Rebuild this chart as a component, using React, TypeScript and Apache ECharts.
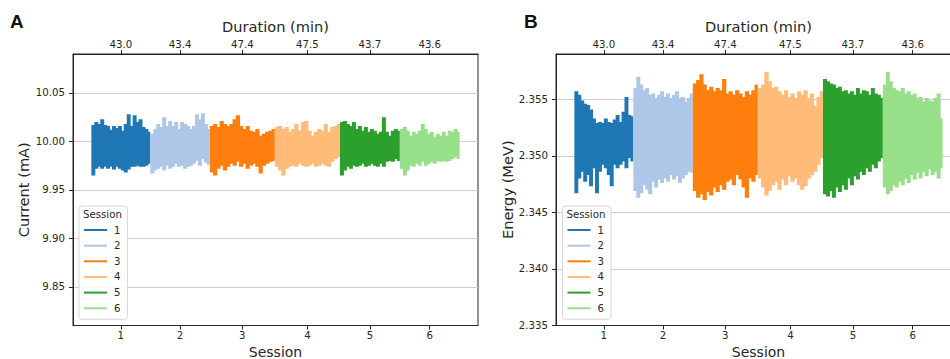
import React, { useEffect, useRef } from "react";
import * as echarts from "echarts";

const sessions = ["1", "2", "3", "4", "5", "6"];
const durations = [43.0, 43.4, 47.4, 47.5, 43.7, 43.6];
const durationLabels = ["43.0", "43.4", "47.4", "47.5", "43.7", "43.6"];
const colors = ["#1f77b4", "#aec7e8", "#ff7f0e", "#ffbb78", "#2ca02c", "#98df8a"];

const currentTicks = [9.85, 9.9, 9.95, 10.0, 10.05];
const energyTicks = [2.335, 2.34, 2.345, 2.35, 2.355];

// Current (mA): upper / lower envelope of each session's trace
const currentHigh = [
  [10.017, 10.020, 10.018, 10.023, 10.017, 10.016, 10.012, 10.016, 10.014, 10.016, 10.011, 10.018, 10.028, 10.016, 10.027, 10.020, 10.023, 10.015, 10.013, 10.010],
  [10.008, 10.013, 10.018, 10.015, 10.025, 10.016, 10.021, 10.016, 10.020, 10.013, 10.020, 10.018, 10.016, 10.013, 10.016, 10.028, 10.023, 10.029, 10.018, 10.013],
  [10.016, 10.018, 10.015, 10.021, 10.018, 10.016, 10.018, 10.023, 10.027, 10.016, 10.013, 10.016, 10.011, 10.010, 10.013, 10.006, 10.008, 10.010, 10.011, 10.013],
  [10.015, 10.016, 10.013, 10.015, 10.010, 10.013, 10.018, 10.011, 10.020, 10.021, 10.011, 10.006, 10.010, 10.013, 10.011, 10.018, 10.010, 10.015, 10.016, 10.018],
  [10.020, 10.021, 10.018, 10.016, 10.020, 10.013, 10.016, 10.011, 10.015, 10.010, 10.013, 10.011, 10.008, 10.010, 10.025, 10.010, 10.006, 10.011, 10.013, 10.011],
  [10.013, 10.015, 10.011, 10.006, 10.010, 10.008, 10.011, 10.018, 10.013, 10.008, 10.010, 10.005, 10.008, 10.006, 10.010, 10.006, 10.011, 10.010, 10.013, 10.010],
];
const currentLow = [
  [9.965, 9.972, 9.974, 9.972, 9.974, 9.972, 9.974, 9.971, 9.974, 9.972, 9.970, 9.968, 9.971, 9.974, 9.974, 9.975, 9.974, 9.974, 9.975, 9.977],
  [9.967, 9.970, 9.972, 9.974, 9.970, 9.975, 9.972, 9.974, 9.977, 9.974, 9.975, 9.972, 9.974, 9.975, 9.977, 9.980, 9.975, 9.982, 9.978, 9.976],
  [9.968, 9.965, 9.972, 9.975, 9.970, 9.974, 9.977, 9.975, 9.979, 9.974, 9.977, 9.972, 9.975, 9.977, 9.974, 9.967, 9.975, 9.977, 9.979, 9.980],
  [9.974, 9.970, 9.965, 9.972, 9.974, 9.975, 9.974, 9.977, 9.975, 9.974, 9.975, 9.977, 9.974, 9.975, 9.977, 9.975, 9.974, 9.979, 9.982, 9.984],
  [9.965, 9.970, 9.974, 9.972, 9.975, 9.974, 9.975, 9.977, 9.974, 9.975, 9.977, 9.975, 9.974, 9.977, 9.974, 9.979, 9.980, 9.979, 9.982, 9.980],
  [9.972, 9.965, 9.970, 9.975, 9.974, 9.977, 9.975, 9.979, 9.975, 9.977, 9.979, 9.977, 9.980, 9.979, 9.980, 9.979, 9.980, 9.982, 9.984, 9.982],
];

// Energy (MeV): upper / lower envelope of each session's trace
const energyHigh = [
  [2.3557, 2.3554, 2.3549, 2.3546, 2.3545, 2.3541, 2.3533, 2.3529, 2.3530, 2.3529, 2.3533, 2.3530, 2.3529, 2.3532, 2.3536, 2.3530, 2.3539, 2.3552, 2.3536, 2.3535],
  [2.3560, 2.3570, 2.3563, 2.3558, 2.3560, 2.3554, 2.3555, 2.3551, 2.3554, 2.3557, 2.3552, 2.3555, 2.3551, 2.3554, 2.3557, 2.3551, 2.3552, 2.3548, 2.3551, 2.3555],
  [2.3564, 2.3567, 2.3572, 2.3563, 2.3558, 2.3561, 2.3557, 2.3560, 2.3558, 2.3568, 2.3555, 2.3557, 2.3554, 2.3558, 2.3555, 2.3552, 2.3557, 2.3554, 2.3558, 2.3563],
  [2.3560, 2.3563, 2.3574, 2.3566, 2.3560, 2.3561, 2.3557, 2.3554, 2.3558, 2.3552, 2.3555, 2.3551, 2.3557, 2.3554, 2.3558, 2.3551, 2.3555, 2.3544, 2.3552, 2.3557],
  [2.3568, 2.3566, 2.3564, 2.3563, 2.3560, 2.3561, 2.3557, 2.3558, 2.3555, 2.3557, 2.3554, 2.3560, 2.3555, 2.3558, 2.3557, 2.3554, 2.3560, 2.3555, 2.3554, 2.3551],
  [2.3563, 2.3574, 2.3566, 2.3560, 2.3558, 2.3557, 2.3560, 2.3555, 2.3557, 2.3554, 2.3555, 2.3551, 2.3552, 2.3548, 2.3551, 2.3549, 2.3548, 2.3551, 2.3555, 2.3533],
];
const energyLow = [
  [2.3467, 2.3480, 2.3486, 2.3477, 2.3483, 2.3473, 2.3489, 2.3467, 2.3486, 2.3492, 2.3489, 2.3483, 2.3473, 2.3492, 2.3489, 2.3492, 2.3495, 2.3489, 2.3498, 2.3495],
  [2.3469, 2.3463, 2.3467, 2.3474, 2.3470, 2.3466, 2.3477, 2.3472, 2.3479, 2.3476, 2.3480, 2.3477, 2.3483, 2.3479, 2.3482, 2.3476, 2.3480, 2.3483, 2.3486, 2.3485],
  [2.3469, 2.3463, 2.3466, 2.3461, 2.3468, 2.3465, 2.3472, 2.3468, 2.3474, 2.3470, 2.3477, 2.3479, 2.3474, 2.3483, 2.3479, 2.3472, 2.3463, 2.3480, 2.3477, 2.3483],
  [2.3480, 2.3472, 2.3465, 2.3469, 2.3474, 2.3477, 2.3470, 2.3479, 2.3474, 2.3482, 2.3477, 2.3480, 2.3474, 2.3470, 2.3473, 2.3480, 2.3483, 2.3486, 2.3492, 2.3498],
  [2.3466, 2.3464, 2.3469, 2.3463, 2.3472, 2.3468, 2.3474, 2.3470, 2.3480, 2.3474, 2.3482, 2.3479, 2.3486, 2.3483, 2.3489, 2.3486, 2.3492, 2.3489, 2.3495, 2.3498],
  [2.3472, 2.3466, 2.3469, 2.3474, 2.3472, 2.3477, 2.3474, 2.3480, 2.3476, 2.3483, 2.3479, 2.3485, 2.3480, 2.3486, 2.3482, 2.3488, 2.3483, 2.3486, 2.3480, 2.3489],
];

const FONT = "DejaVu Sans";
const INK = "#262626";

const starts: number[] = [];
durations.forEach((d, i) => starts.push(i === 0 ? 0 : starts[i - 1] + durations[i - 1]));
const centers = starts.map((s, i) => s + durations[i] / 2);
const X_MIN = -13.4;
const X_MAX = 282.0;

// each sample covers an equal slice of its session: [t0, t1, low, high]
function samples(start: number, dur: number, hi: number[], lo: number[]) {
  const n = hi.length;
  return hi.map((h, i) => [start + (dur * i) / n, start + (dur * (i + 1)) / n, lo[i], h]);
}

function centerIndex(v: number) {
  let best = 0;
  centers.forEach((c, i) => {
    if (Math.abs(c - v) < Math.abs(centers[best] - v)) best = i;
  });
  return best;
}

function bottomAxis(gridIndex: number) {
  return {
    type: "value",
    gridIndex,
    position: "bottom",
    min: X_MIN,
    max: X_MAX,
    name: "Session",
    nameLocation: "middle",
    nameGap: 14,
    nameTextStyle: { fontSize: 14, color: INK, fontFamily: FONT },
    axisLine: { show: true, onZero: false, lineStyle: { color: INK, width: 1 } },
    axisTick: { show: true, length: 4, customValues: centers, lineStyle: { color: INK } },
    axisLabel: {
      customValues: centers,
      formatter: (v: number) => sessions[centerIndex(v)],
      fontSize: 10.2,
      color: INK,
      fontFamily: FONT,
      margin: 5,
    },
    splitLine: { show: false },
  };
}

function topAxis(gridIndex: number) {
  return {
    type: "value",
    gridIndex,
    position: "top",
    min: X_MIN,
    max: X_MAX,
    name: "Duration (min)",
    nameLocation: "middle",
    nameGap: 19,
    nameTextStyle: { fontSize: 14.6, color: INK, fontFamily: FONT },
    axisLine: { show: true, onZero: false, lineStyle: { color: INK, width: 1 } },
    axisTick: { show: true, length: 4, customValues: centers, lineStyle: { color: INK } },
    axisLabel: {
      customValues: centers,
      formatter: (v: number) => durationLabels[centerIndex(v)],
      fontSize: 10.2,
      color: INK,
      fontFamily: FONT,
      margin: 5,
    },
    splitLine: { show: false },
  };
}

function yAxis(gridIndex: number, name: string, min: number, max: number, ticks: number[], digits: number, gap: number) {
  return {
    type: "value",
    gridIndex,
    min,
    max,
    name,
    nameLocation: "middle",
    nameRotate: 90,
    nameGap: gap,
    nameTextStyle: { fontSize: 14.6, color: INK, fontFamily: FONT },
    axisLine: { show: true, onZero: false, lineStyle: { color: INK, width: 1 } },
    axisTick: { show: true, length: 4, customValues: ticks, lineStyle: { color: INK } },
    axisLabel: {
      customValues: ticks,
      formatter: (v: number) => v.toFixed(digits),
      fontSize: 10.2,
      color: INK,
      fontFamily: FONT,
      margin: 8,
    },
    splitLine: { show: true, lineStyle: { color: "#cfcfcf", width: 1 } },
  };
}

function legend(left: number) {
  return {
    left,
    top: 206,
    orient: "vertical",
    data: sessions.map((s) => ({ name: s, icon: "rect" })),
    itemWidth: 23,
    itemHeight: 2,
    itemGap: 5.65,
    padding: [19, 7, 6, 5],
    backgroundColor: "rgba(255,255,255,0.85)",
    borderColor: "#d6d6d6",
    borderWidth: 1,
    borderRadius: 3,
    selectedMode: false,
    textStyle: { fontSize: 10.2, lineHeight: 10, color: INK, fontFamily: FONT, padding: [0, 0, 0, 2] },
  };
}

export default function App() {
  const ref = useRef<HTMLDivElement>(null);

  useEffect(() => {
    if (!ref.current) return;
    const chart = echarts.init(ref.current, null, { renderer: "svg" });

    const series: any[] = [];
    const panels = [
      { hi: currentHigh, lo: currentLow, xAxisIndex: 0, yAxisIndex: 0 },
      { hi: energyHigh, lo: energyLow, xAxisIndex: 2, yAxisIndex: 1 },
    ];
    panels.forEach((p) => {
      sessions.forEach((s, i) => {
        const color = colors[i];
        const last = p.hi[i].length - 1;
        series.push({
          type: "custom",
          name: s,
          xAxisIndex: p.xAxisIndex,
          yAxisIndex: p.yAxisIndex,
          data: samples(starts[i], durations[i], p.hi[i], p.lo[i]),
          encode: { x: [0, 1], y: [2, 3] },
          color,
          clip: true,
          z: 2,
          renderItem: (params: any, api: any) => {
            const a = api.coord([api.value(0), api.value(3)]);
            const b = api.coord([api.value(1), api.value(2)]);
            const extra = params.dataIndex === last ? 0 : 1;
            return {
              type: "rect",
              shape: { x: a[0], y: a[1], width: b[0] - a[0] + extra, height: b[1] - a[1] },
              style: { fill: color },
            };
          },
        });
      });
    });

    const gridBase = {
      top: 54,
      width: 405,
      height: 271.5,
      show: true,
      borderColor: INK,
      borderWidth: 1,
      backgroundColor: "transparent",
      containLabel: false,
      outerBoundsMode: "none",
    };

    chart.setOption({
      animation: false,
      textStyle: { fontFamily: FONT },
      grid: [
        { ...gridBase, left: 73 },
        { ...gridBase, left: 556 },
      ],
      xAxis: [bottomAxis(0), topAxis(0), bottomAxis(1), topAxis(1)],
      yAxis: [
        yAxis(0, "Current (mA)", 9.8103, 10.0902, currentTicks, 2, 42),
        yAxis(1, "Energy (MeV)", 2.335, 2.359, energyTicks, 3, 41),
      ],
      legend: [legend(79), legend(562.5)],
      graphic: [
        { type: "text", left: 10, top: 12, z: 10, style: { text: "A", font: "bold 19px 'Liberation Sans', Arial, sans-serif", fill: "#111" } },
        { type: "text", left: 524, top: 12, z: 10, style: { text: "B", font: "bold 19px 'Liberation Sans', Arial, sans-serif", fill: "#111" } },
        { type: "text", left: 83, top: 209, z: 10, style: { text: "Session", font: `10.2px '${FONT}'`, fill: INK } },
        { type: "text", left: 566.5, top: 209, z: 10, style: { text: "Session", font: `10.2px '${FONT}'`, fill: INK } },
      ],
      series,
    });

    return () => chart.dispose();
  }, []);

  return (
    <div
      ref={ref}
      style={{ position: "fixed", left: 0, top: 0, width: 950, height: 359, background: "#fff" }}
    />
  );
}
